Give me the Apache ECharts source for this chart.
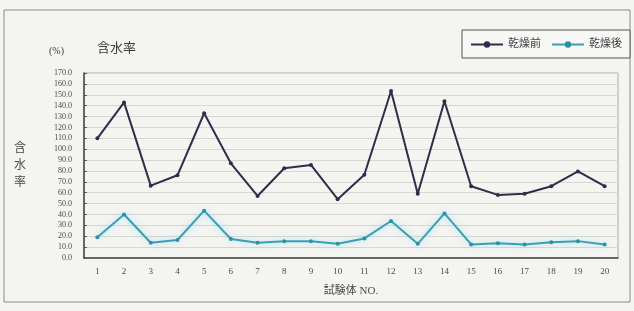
<!DOCTYPE html>
<html>
<head>
<meta charset="utf-8">
<script src="https://cdn.jsdelivr.net/npm/echarts@6/dist/echarts.min.js"></script>
<style>
  html, body { margin: 0; padding: 0; background: #f4f4f1; }
  #chart { width: 634px; height: 311px; }
</style>
</head>
<body>
<div id="chart"></div>
<script>
// 試験体番号
const specimens = ["1","2","3","4","5","6","7","8","9","10","11","12","13","14","15","16","17","18","19","20"];
// 乾燥前 含水率 (%)
const beforeDrying = [110, 143, 66.5, 76, 133, 87, 57, 82.5, 85.5, 54, 76.5, 153.5, 59, 144, 66, 58, 59, 66, 79.5, 66];
// 乾燥後 含水率 (%)
const afterDrying = [19, 40, 14, 16.5, 43.5, 17.5, 14, 15.5, 15.5, 13, 18, 34, 13, 41, 12.5, 13.5, 12.5, 14.5, 15.5, 12.5];

const serif = "'Liberation Serif', 'DejaVu Serif', 'Noto Sans CJK JP', serif";
const textColor = "#4a4a4a";

const chart = echarts.init(document.getElementById("chart"));

chart.setOption({
  backgroundColor: "#f4f4f1",
  animation: false,
  textStyle: { fontFamily: serif, color: textColor },
  title: [
    {
      text: "含水率",
      left: 92, top: 37,
      textStyle: { fontFamily: serif, fontSize: 13, fontWeight: "normal", color: "#3c3c3c" }
    },
    {
      text: "(%)",
      left: 44, top: 41,
      textStyle: { fontFamily: serif, fontSize: 10, fontWeight: "normal", color: "#3c3c3c" }
    }
  ],
  graphic: [
    {
      type: "rect",
      shape: { x: 4, y: 10, width: 626, height: 292 },
      style: { fill: "none", stroke: "#8a8a8a", lineWidth: 1 },
      silent: true
    }
  ],
  legend: {
    right: 4, top: 30,
    width: 170, height: 22,
    padding: [9, 8, 8, 8],
    borderColor: "#555",
    borderWidth: 1,
    backgroundColor: "#f7f7f5",
    itemWidth: 32, itemHeight: 8,
    itemGap: 10,
    textStyle: { fontFamily: serif, fontSize: 11, color: "#3c3c3c" },
    data: ["乾燥前", "乾燥後"]
  },
  grid: {
    left: 84, right: 16, top: 73, bottom: 53,
    show: true, borderColor: "#a8a8a4", borderWidth: 1, backgroundColor: "transparent"
  },
  xAxis: {
    type: "category",
    data: specimens,
    boundaryGap: true,
    name: "試験体 NO.",
    nameLocation: "middle",
    nameGap: 28,
    nameTextStyle: { fontFamily: serif, fontSize: 11, color: textColor },
    axisLine: { lineStyle: { color: "#444", width: 1.5 } },
    axisTick: { inside: true, length: 3, lineStyle: { color: "#555" } },
    axisLabel: { fontFamily: serif, fontSize: 9, color: textColor, margin: 9 },
    splitLine: { show: false }
  },
  yAxis: {
    type: "value",
    min: 0, max: 170, interval: 10,
    name: "含\n水\n率",
    nameLocation: "middle",
    nameRotate: 0,
    nameGap: 58,
    nameTextStyle: { fontFamily: serif, fontSize: 12, lineHeight: 17, color: textColor },
    axisLine: { show: true, lineStyle: { color: "#444", width: 1.5 } },
    axisTick: { show: true, inside: true, length: 3, lineStyle: { color: "#555" } },
    axisLabel: {
      fontFamily: serif, fontSize: 8, color: textColor, margin: 12,
      formatter: v => v.toFixed(1)
    },
    splitLine: { lineStyle: { color: "#d6d6d3", width: 1 } }
  },
  series: [
    {
      name: "乾燥前",
      type: "line",
      data: beforeDrying,
      symbol: "circle",
      symbolSize: 4,
      itemStyle: { color: "#2e2e4a" },
      lineStyle: { color: "#2e2e4a", width: 2 }
    },
    {
      name: "乾燥後",
      type: "line",
      data: afterDrying,
      symbol: "circle",
      symbolSize: 4,
      itemStyle: { color: "#2f8fa6" },
      lineStyle: {
        color: "#3a9fb6", width: 2,
        shadowColor: "rgba(120, 220, 240, 0.7)", shadowBlur: 6
      }
    }
  ]
});
</script>
</body>
</html>
